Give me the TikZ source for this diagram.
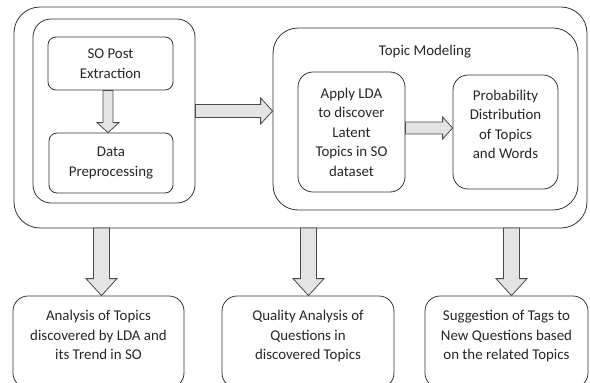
\documentclass[tikz,border=0pt]{standalone}
\usepackage{fontspec}
\setmainfont{Carlito}
\usetikzlibrary{calc}
\definecolor{edge}{HTML}{333333}
\definecolor{arrfill}{HTML}{E4E4E4}
\definecolor{arredge}{HTML}{4A4A4A}
\definecolor{txt}{HTML}{262626}
\tikzset{
  box/.style={draw=edge, line width=0.8pt, align=center, text=txt,
    font=\fontsize{14.9}{19.5}\selectfont, inner sep=0pt},
  plaintext/.style={text=txt, font=\fontsize{14.9}{19.5}\selectfont, inner sep=0pt},
  blockdown/.style n args={3}{draw=arredge, fill=arrfill, line width=0.8pt,
    to path={let \p1=(\tikztostart), \p2=(\tikztotarget) in
      (\x1-#1,\y1) -- (\x1-#1,\y2+#3) -- (\x1-#2,\y2+#3) -- (\x1,\y2)
      -- (\x1+#2,\y2+#3) -- (\x1+#1,\y2+#3) -- (\x1+#1,\y1) -- cycle}},
  blockright/.style n args={3}{draw=arredge, fill=arrfill, line width=0.8pt,
    to path={let \p1=(\tikztostart), \p2=(\tikztotarget) in
      (\x1,\y1+#1) -- (\x2-#3,\y1+#1) -- (\x2-#3,\y1+#2) -- (\x2,\y1)
      -- (\x2-#3,\y1-#2) -- (\x2-#3,\y1-#1) -- (\x1,\y1-#1) -- cycle}}
}
\begin{document}
\begin{tikzpicture}[x=1pt,y=-1pt]
\useasboundingbox (0,0) rectangle (590,383);
% outer container
\node[box, rounded corners=26pt, minimum width=573pt, minimum height=221pt] (outer) at (300.5,117.5) {};
% left group
\node[box, rounded corners=18pt, minimum width=162pt, minimum height=184pt] (left) at (114,111) {};
\node[box, rounded corners=8pt, minimum width=125pt, minimum height=53pt] (sop) at (110.5,63.5) {SO Post\\Extraction};
\node[box, rounded corners=8pt, minimum width=124pt, minimum height=60pt] (dp) at (111,163) {Data\\Preprocessing};
% topic modeling group
\node[box, rounded corners=25pt, minimum width=305pt, minimum height=182pt] (tm) at (425.5,119) {};
\node[plaintext] (tml) at (425,52) {Topic Modeling};
\node[box, rounded corners=15pt, minimum width=107pt, minimum height=120pt] (lda) at (351.5,132) {Apply LDA\\to discover\\Latent\\Topics in SO\\dataset};
\node[box, rounded corners=15pt, minimum width=105pt, minimum height=114pt] (prob) at (505.5,132) {Probability\\Distribution\\of Topics\\and Words\rule[-15.5pt]{0pt}{1pt}};
% bottom boxes
\node[box, rounded corners=15pt, minimum width=171pt, minimum height=92pt] (b1) at (98.5,342) {Analysis of Topics\\discovered by LDA and\\its Trend in SO\rule[-13.5pt]{0pt}{1pt}};
\node[box, rounded corners=15pt, minimum width=172pt, minimum height=92pt] (b2) at (308,342) {Quality Analysis of\\Questions in\\discovered Topics\rule[-13.5pt]{0pt}{1pt}};
\node[box, rounded corners=15pt, minimum width=163pt, minimum height=92pt] (b3) at (506.5,342) {Suggestion of Tags to\\New Questions based\\on the related Topics\rule[-13.5pt]{0pt}{1pt}};
% arrow start points on the outer container
\coordinate (o1) at (101.5,228);
\coordinate (o2) at (308.5,228);
\coordinate (o3) at (511.5,228);
% block arrows
\draw[blockdown={5pt}{11pt}{10pt}] ([xshift=-2.5pt]sop.south) to (dp.north);
\draw[blockright={6.5pt}{13pt}{12pt}] (left.east) to (tm.west);
\draw[blockright={6pt}{11pt}{10pt}] ([yshift=4pt]lda.east) to (prob.west);
\draw[blockdown={8pt}{15.5pt}{17pt}] (o1) to (b1.north);
\draw[blockdown={8pt}{15.5pt}{17pt}] (o2) to (b2.north);
\draw[blockdown={8pt}{15.5pt}{17pt}] (o3) to (b3.north);
\end{tikzpicture}
\end{document}
